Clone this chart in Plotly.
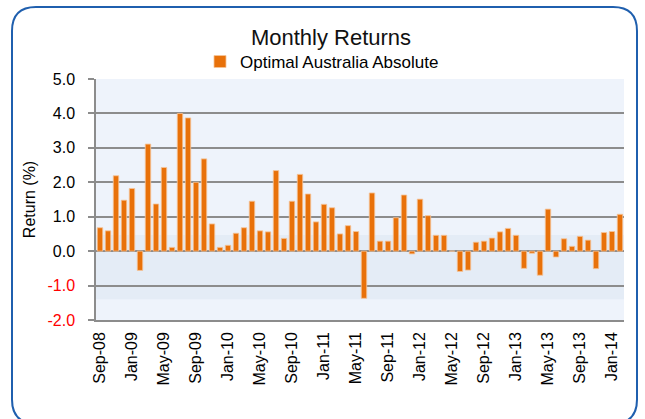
import plotly.graph_objects as go
import pandas as pd

months = [d.strftime("%b-%y") for d in pd.date_range("2008-09-01", "2014-02-01", freq="MS")]

returns = [0.68, 0.59, 2.19, 1.48, 1.82, -0.56, 3.11, 1.37, 2.43, 0.11,
           4.00, 3.87, 2.00, 2.68, 0.79, 0.11, 0.17, 0.52, 0.68, 1.45,
           0.59, 0.56, 2.34, 0.37, 1.45, 2.23, 1.66, 0.85, 1.36, 1.26,
           0.50, 0.74, 0.57, -1.37, 1.69, 0.29, 0.29, 0.97, 1.63, -0.08,
           1.51, 1.03, 0.46, 0.46, 0.00, -0.59, -0.55, 0.26, 0.29, 0.38,
           0.56, 0.66, 0.46, -0.50, -0.06, -0.70, 1.22, -0.17, 0.36, 0.14,
           0.43, 0.32, -0.51, 0.54, 0.57, 1.07]

tick_labels = ["Sep-08", "Jan-09", "May-09", "Sep-09", "Jan-10", "May-10", "Sep-10",
               "Jan-11", "May-11", "Sep-11", "Jan-12", "May-12", "Sep-12", "Jan-13",
               "May-13", "Sep-13", "Jan-14"]

y_ticks = [5, 4, 3, 2, 1, 0, -1, -2]
y_text = [f"{v:.1f}" if v >= 0 else f'<span style="color:#ff0000">{v:.1f}</span>' for v in y_ticks]

band_low, band_high = -1.4, 0.47

FONT = "Liberation Sans, Arial, sans-serif"
GRID = "#8c8c8c"
W, H = 645, 419
L, R, T, B = 96, 21, 79, 99.4
pw, ph = W - L - R, H - T - B

def px(x):
    return (x - L) / pw

def py(y):
    return 1 - (y - T) / ph

fig = go.Figure()
fig.add_trace(go.Bar(
    x=months, y=returns, name="Optimal Australia Absolute",
    marker=dict(color="#e8710a", line=dict(color="#f5c59a", width=0.8)),
))

n = len(months)
fig.update_layout(
    width=W, height=H,
    margin=dict(l=L, r=R, t=T, b=B),
    paper_bgcolor="white",
    plot_bgcolor="#eef3fb",
    bargap=0.32,
    font=dict(family=FONT, size=15, color="#000000"),
    title=dict(text="Monthly Returns", x=px(331), xanchor="center", xref="paper",
               y=1 - 37 / H, yanchor="middle", yref="container",
               font=dict(size=22, family=FONT, color="#111111")),
    showlegend=True,
    legend=dict(orientation="h", x=px(322), xanchor="center", y=py(62), yanchor="middle",
                font=dict(size=17, family=FONT), bgcolor="rgba(0,0,0,0)",
                itemwidth=30),
    xaxis=dict(type="category", range=[-0.5, n - 0.5],
               tickmode="array", tickvals=tick_labels, ticktext=tick_labels,
               tickangle=-90, ticks="", showgrid=False, showline=True,
               linecolor=GRID, linewidth=1.5, ticklabelstandoff=4,
               tickfont=dict(size=16, family=FONT)),
    xaxis2=dict(overlaying="x", anchor="free", position=2 / 7, range=[-0.5, n - 0.5],
                tickmode="array", tickvals=[i - 0.5 for i in range(0, n, 4)],
                ticks="outside", ticklen=5, tickwidth=1.5, tickcolor=GRID,
                showticklabels=False, showgrid=False, showline=True,
                linecolor=GRID, linewidth=1.8, zeroline=False),
    yaxis=dict(range=[-2, 5], tickmode="array", tickvals=y_ticks, ticktext=y_text,
               showgrid=True, gridcolor=GRID, gridwidth=1.5, zeroline=False,
               ticks="outside", ticklen=6, tickwidth=1.5, tickcolor=GRID,
               showline=True, linecolor=GRID, linewidth=1.5,
               ticklabelstandoff=10,
               tickfont=dict(size=16, family=FONT),
               title=dict(text="Return (%)", standoff=8, font=dict(size=16, family=FONT))),
)

fig.add_shape(type="rect", xref="paper", yref="y", x0=0, x1=1, y0=band_low, y1=band_high,
              fillcolor="#e4ecf6", line=dict(width=0), layer="below")

# rounded outer frame
x0, x1 = px(12), px(637)
y0, y1 = py(423), py(7)
rx, ry = 24 / pw, 24 / ph
path = (f"M {x0+rx},{y1} L {x1-rx},{y1} Q {x1},{y1} {x1},{y1-ry} "
        f"L {x1},{y0+ry} Q {x1},{y0} {x1-rx},{y0} L {x0+rx},{y0} "
        f"Q {x0},{y0} {x0},{y0+ry} L {x0},{y1-ry} Q {x0},{y1} {x0+rx},{y1} Z")
fig.add_shape(type="path", xref="paper", yref="paper", path=path,
              line=dict(color="#1f5fae", width=2), fillcolor="rgba(0,0,0,0)", layer="above")

fig.write_html("out.html", config={"displayModeBar": False},
               post_script="document.body.style.margin='0px';")
